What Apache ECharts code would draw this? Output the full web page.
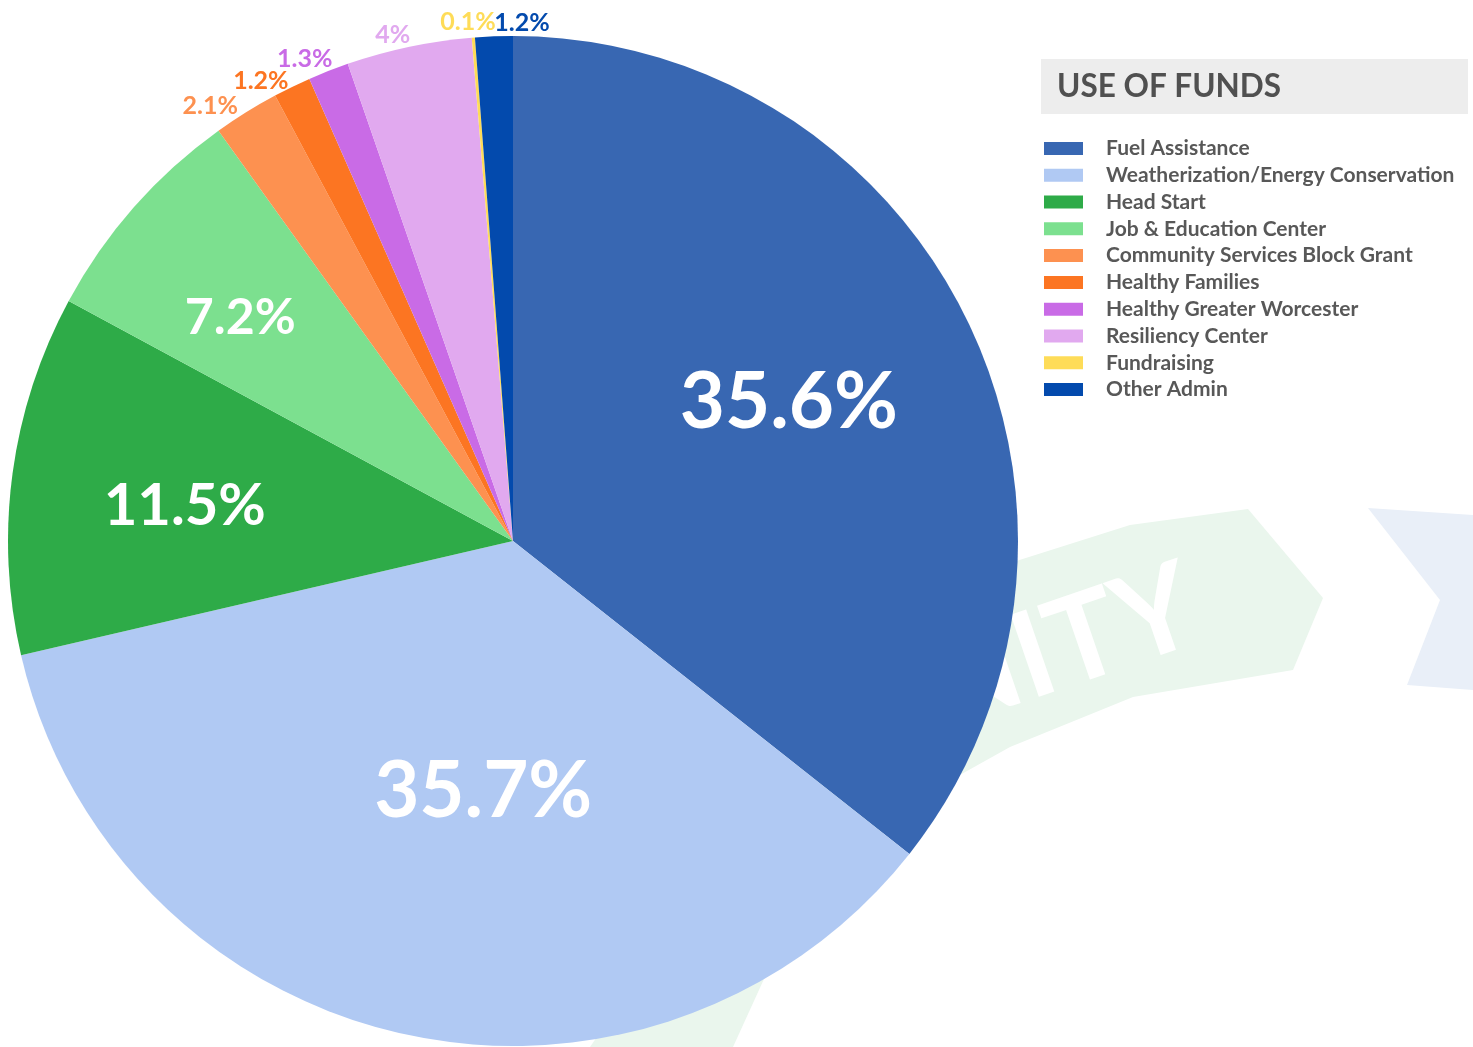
<!DOCTYPE html>
<html>
<head>
<meta charset="utf-8">
<title>Use of Funds</title>
<script src="https://cdn.jsdelivr.net/npm/echarts@6/dist/echarts.min.js"></script>
<style>
    html, body { margin: 0; padding: 0; background: #fff; }
    #chart { width: 1473px; height: 1047px; }
</style>
</head>
<body>
<div id="chart"></div>
<script>
// data
let fundNames = ['Fuel Assistance', 'Weatherization/Energy Conservation', 'Head Start',
    'Job & Education Center', 'Community Services Block Grant', 'Healthy Families',
    'Healthy Greater Worcester', 'Resiliency Center', 'Fundraising', 'Other Admin'];
let fundShares = [35.6, 35.7, 11.5, 7.2, 2.1, 1.2, 1.3, 4, 0.1, 1.2];
let fundColors = ['#3867b2', '#b0c9f3', '#2eab48', '#7ce08f', '#fd9150',
    '#fc7522', '#c96be6', '#e1a9ef', '#fedc58', '#034aad'];

// big slices get the white label inside, the rest sit on the rim
let insideSize = [78, 78, 58, 50];
// small nudges so labels sit where the original put them
let labelNudge = [[46, -27], [26, 2], [-75, -1], [-81, -54], [1, 0], [5, 1],
    [12, -5], [8, -4], [28, -8], [61, -5]];

$ready();

function $ready() {
    let myChart = echarts.init(document.getElementById('chart'));

    let pieData = fundNames.map(function (name, i) {
        let item = {value: fundShares[i], name: name, itemStyle: {color: fundColors[i]}};
        if (i < insideSize.length) {
            item.label = {position: 'inside', color: '#fff', fontSize: insideSize[i]};
            item.labelLine = {show: false};
        } else {
            item.label = {position: 'outside', color: fundColors[i], fontSize: 25};
        }
        return item;
    });

    let option = {
        backgroundColor: '#ffffff',
        animation: false,
        title: {
            text: 'USE OF FUNDS',
            left: 1057,
            top: 71,
            padding: 0,
            textStyle: {fontFamily: 'Lato', fontSize: 31.5, fontWeight: 'bold', color: '#505050'}
        },
        graphic: [
            { // faint banner behind the chart
                type: 'polygon', z: -10, silent: true,
                shape: {points: [[590, 1047], [760, 800], [1010, 563], [1130, 525], [1248, 509],
                    [1323, 598], [1293, 670], [1133, 697], [1010, 747], [933, 790], [800, 900], [733, 1047]]},
                style: {fill: '#eaf6ed'}
            },
            {
                type: 'text', z: -9, silent: true,
                x: 1212, y: 660, rotation: 0.33,
                style: {
                    text: 'UNITY', fill: '#ffffff', font: 'bold 120px Lato',
                    textAlign: 'right', textVerticalAlign: 'bottom'
                }
            },
            {
                type: 'polygon', z: -10, silent: true,
                shape: {points: [[1368, 508], [1473, 515], [1473, 690], [1407, 685], [1440, 600]]},
                style: {fill: '#e9eff8'}
            },
            {
                type: 'rect', z: -5, silent: true,
                shape: {x: 1041, y: 59, width: 427, height: 55},
                style: {fill: '#ededed'}
            }
        ],
        legend: {
            orient: 'vertical',
            left: 1044,
            top: 135,
            padding: 0,
            itemGap: 0,
            itemWidth: 39,
            itemHeight: 13,
            icon: 'rect',
            selectedMode: false,
            data: fundNames,
            textStyle: {
                fontFamily: 'Lato', fontSize: 21, fontWeight: 'bold', color: '#585858',
                lineHeight: 26.8, padding: [0, 0, 0, 18]
            }
        },
        series: [
            {
                name: 'Use of Funds',
                type: 'pie',
                center: [513, 541],
                radius: 505,
                startAngle: 90,
                clockwise: true,
                avoidLabelOverlap: false,
                label: {
                    fontFamily: 'Lato',
                    fontWeight: 'bold',
                    formatter: function (p) { return p.value + '%'; }
                },
                labelLine: {show: false, length: 8, length2: 0},
                labelLayout: function (params) {
                    let n = labelNudge[params.dataIndex];
                    return {dx: n[0], dy: n[1]};
                },
                emphasis: {disabled: true},
                data: pieData
            }
        ]
    };

    myChart.setOption(option);
}
</script>
</body>
</html>
